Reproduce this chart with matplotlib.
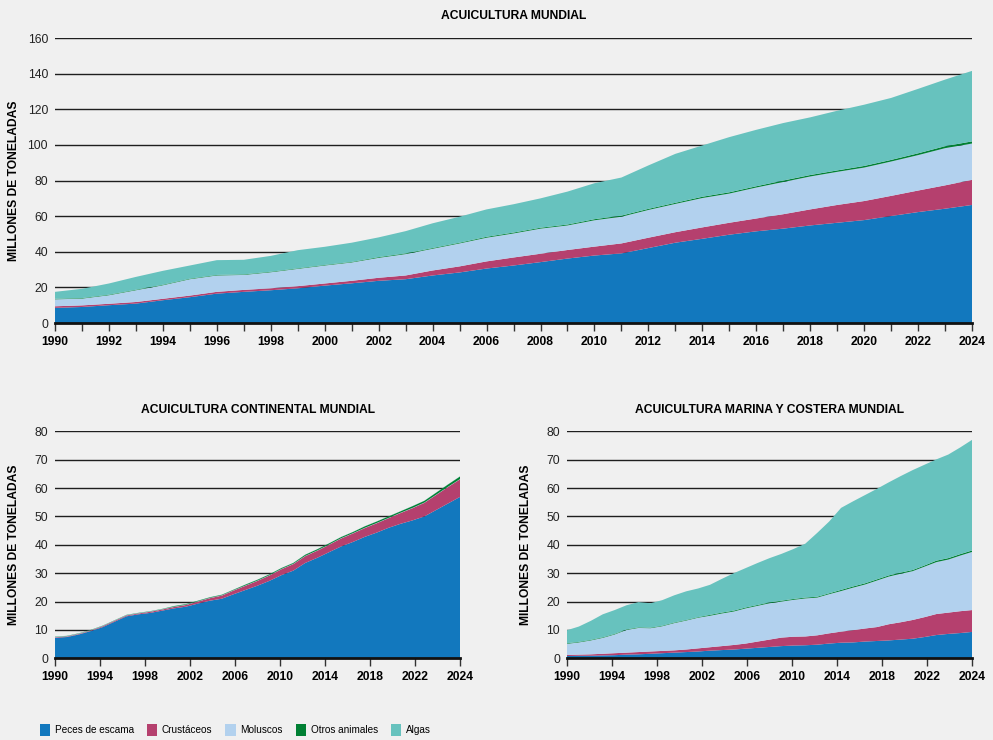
import numpy as np
import matplotlib
matplotlib.use('Agg')
import matplotlib.pyplot as plt
from matplotlib.ticker import MultipleLocator
from matplotlib.patches import Patch

plt.rcParams['font.family'] = ['Liberation Sans', 'DejaVu Sans']

years = list(range(1990, 2025))
categories = ['Peces de escama', 'Crustáceos', 'Moluscos', 'Otros animales', 'Algas']
colors = ['#1278be', '#b5406e', '#b2d1ee', '#008033', '#67c2be']

# Acuicultura mundial (millones de toneladas)
mundial_peces = [8.5, 9.0, 10.0, 10.9, 12.8, 14.5, 16.5, 17.5, 18.4, 19.5, 21.0, 22.3, 23.7, 24.6, 26.7, 28.4, 30.6,
                 32.3, 34.2, 36.2, 37.9, 39.1, 42.1, 45.1, 47.3, 49.6, 51.5, 53.0, 54.8, 56.3, 57.8, 60.1, 62.3, 64.2, 66.3]
mundial_crust = [0.9, 0.9, 0.8, 0.9, 0.8, 0.9, 1.0, 1.1, 1.1, 1.2, 1.2, 1.4, 1.7, 2.1, 2.8, 3.4, 4.0,
                 4.5, 4.7, 4.8, 5.0, 5.6, 5.8, 5.9, 6.4, 6.7, 7.2, 8.1, 9.0, 10.0, 10.7, 11.3, 12.1, 13.1, 14.1]
mundial_molus = [3.9, 3.8, 4.8, 6.6, 7.6, 9.2, 9.2, 8.4, 9.0, 9.7, 10.1, 10.3, 11.2, 12.0, 12.2, 12.9, 13.3,
                 13.5, 14.1, 13.8, 14.8, 15.0, 15.6, 15.9, 16.5, 16.4, 17.4, 18.1, 18.5, 18.6, 18.8, 19.3, 19.9, 20.9, 20.4]
mundial_otros = [0.3, 0.3, 0.3, 0.3, 0.3, 0.3, 0.3, 0.3, 0.3, 0.3, 0.3, 0.3, 0.4, 0.4, 0.4, 0.4, 0.5,
                 0.5, 0.5, 0.5, 0.6, 0.6, 0.6, 0.6, 0.7, 0.7, 0.7, 0.8, 0.8, 0.8, 0.9, 0.9, 1.0, 1.1, 1.2]
mundial_algas = [3.9, 5.2, 6.3, 7.2, 7.8, 7.4, 8.3, 8.2, 8.9, 10.2, 10.2, 10.8, 11.1, 12.5, 13.9, 14.6, 15.4,
                 15.9, 16.5, 18.5, 20.2, 21.4, 24.4, 27.5, 28.8, 31.0, 31.7, 32.3, 32.4, 33.5, 34.4, 34.8, 36.2, 37.4, 39.6]

# Acuicultura continental
cont_peces = [7.2, 7.5, 8.4, 9.6, 11.0, 12.9, 14.8, 15.5, 16.0, 16.8, 17.6, 18.2, 19.3, 20.3, 21.0, 22.6, 24.1,
              25.6, 27.3, 29.3, 30.9, 33.6, 35.4, 37.4, 39.4, 41.0, 42.8, 44.3, 46.0, 47.4, 48.6, 50.0, 52.3, 54.6, 56.9]
cont_crust = [0.2, 0.2, 0.2, 0.2, 0.3, 0.3, 0.3, 0.3, 0.4, 0.4, 0.5, 0.6, 0.7, 0.9, 1.1, 1.3, 1.5,
              1.7, 1.9, 2.1, 2.3, 2.4, 2.5, 2.6, 2.8, 3.0, 3.1, 3.3, 3.4, 3.8, 4.3, 4.8, 5.3, 5.8, 6.2]
cont_molus = [0.1] * 35
cont_otros = [0.1, 0.1, 0.1, 0.1, 0.1, 0.1, 0.1, 0.1, 0.1, 0.1, 0.2, 0.2, 0.2, 0.2, 0.2, 0.2, 0.3,
              0.3, 0.3, 0.3, 0.3, 0.4, 0.4, 0.4, 0.4, 0.4, 0.5, 0.5, 0.5, 0.5, 0.6, 0.6, 0.7, 0.8, 0.9]
cont_algas = [0.05] * 35

# Acuicultura marina y costera
mar_peces = [0.8, 0.9, 0.9, 1.0, 1.1, 1.3, 1.4, 1.6, 1.8, 2.0, 2.2, 2.4, 2.7, 2.9, 3.1, 3.4, 3.7,
             4.0, 4.3, 4.5, 4.6, 4.8, 5.2, 5.5, 5.6, 5.9, 6.1, 6.3, 6.6, 6.9, 7.5, 8.2, 8.6, 8.9, 9.3]
mar_crust = [0.4, 0.4, 0.5, 0.6, 0.7, 0.7, 0.8, 0.8, 0.8, 0.8, 0.9, 1.1, 1.2, 1.4, 1.6, 1.8, 2.2,
             2.6, 3.0, 3.1, 3.1, 3.3, 3.6, 3.9, 4.3, 4.6, 4.9, 5.7, 6.1, 6.6, 7.0, 7.4, 7.5, 7.7, 7.7]
mar_molus = [3.9, 4.3, 4.9, 5.6, 6.6, 8.0, 8.5, 8.2, 8.7, 9.6, 10.2, 10.8, 11.1, 11.5, 11.8, 12.4, 12.6,
             12.8, 12.7, 13.0, 13.4, 13.3, 13.8, 14.3, 15.0, 15.5, 16.4, 16.8, 17.1, 17.2, 17.8, 18.3, 18.7, 19.6, 20.5]
mar_otros = [0.2, 0.2, 0.2, 0.2, 0.2, 0.2, 0.2, 0.2, 0.2, 0.2, 0.2, 0.2, 0.3, 0.3, 0.3, 0.3, 0.3,
             0.3, 0.3, 0.3, 0.3, 0.3, 0.3, 0.4, 0.4, 0.4, 0.4, 0.4, 0.4, 0.4, 0.4, 0.5, 0.5, 0.5, 0.5]
mar_algas = [4.6, 5.4, 6.7, 8.1, 8.4, 8.5, 8.9, 8.6, 9.0, 9.6, 10.1, 10.1, 10.6, 11.9, 13.2, 13.9, 14.8,
             15.6, 16.5, 17.6, 19.0, 22.5, 25.3, 28.9, 30.0, 31.1, 31.9, 32.8, 34.0, 35.2, 35.5, 35.7, 36.5, 37.6, 39.0]

bottom_tick_labels = ['1990', '1994', '1998', '2002', '2006', '2010', '2014', '2018', '2022', '2024']

bg = '#f0f0f0'
fs = 8.7
fig = plt.figure(figsize=(9.93, 7.40), dpi=100, facecolor=bg)


def draw(ax, series, ymax, ystep, title, label_x):
    ax.set_facecolor(bg)
    ax.stackplot(years, *series, colors=colors, linewidth=0, zorder=2)
    ax.set_xlim(1990, 2024)
    ax.set_ylim(0, ymax)
    ax.set_yticks(np.arange(0, ymax + 1, ystep))
    ax.grid(axis='y', color='#1e1e1e', linewidth=1.0, zorder=1)
    ax.set_axisbelow(True)
    for s in ['left', 'right', 'top']:
        ax.spines[s].set_visible(False)
    ax.spines['bottom'].set_linewidth(2)
    ax.spines['bottom'].set_color('#111111')
    ax.spines['bottom'].set_zorder(3)
    ax.tick_params(axis='y', length=0, pad=5, labelsize=fs, colors='#222222')
    ax.tick_params(axis='x', which='both', direction='out', length=5.5, width=1, color='#333333',
                   labelsize=fs, pad=4)
    ax.set_ylabel('MILLONES DE TONELADAS', fontsize=fs, fontweight='bold')
    ax.yaxis.set_label_coords(label_x, 0.5)
    ax.set_title(title, fontsize=fs, fontweight='bold', pad=13.5)


ax1 = fig.add_axes([0.0554, 0.5635, 0.9235, 0.385])
draw(ax1, [mundial_peces, mundial_crust, mundial_molus, mundial_otros, mundial_algas], 160, 20,
     'ACUICULTURA MUNDIAL', -0.038)
ax1.set_xticks(range(1990, 2025, 2))
ax1.xaxis.set_minor_locator(MultipleLocator(1))
for lab in ax1.get_xticklabels():
    lab.set_fontweight('bold')

ax2 = fig.add_axes([0.0554, 0.1104, 0.408, 0.3068])
draw(ax2, [cont_peces, cont_crust, cont_molus, cont_otros, cont_algas], 80, 10,
     'ACUICULTURA CONTINENTAL MUNDIAL', -0.0864)

ax3 = fig.add_axes([0.571, 0.1104, 0.408, 0.3068])
draw(ax3, [mar_peces, mar_crust, mar_molus, mar_otros, mar_algas], 80, 10,
     'ACUICULTURA MARINA Y COSTERA MUNDIAL', -0.0864)

for ax in (ax2, ax3):
    ax.set_xticks(np.linspace(1990, 2024, len(bottom_tick_labels)))
    ax.set_xticklabels(bottom_tick_labels, fontweight='bold')

handles = [Patch(facecolor=c, edgecolor='none') for c in colors]
fig.legend(handles, categories, loc='center left', bbox_to_anchor=(0.040, 0.0135), ncol=5, frameon=False,
           fontsize=7.2, handlelength=1.05, handleheight=1.4, handletextpad=0.45, columnspacing=1.3,
           borderpad=0, borderaxespad=0)

fig.savefig('out.png', dpi=100, facecolor=bg)
